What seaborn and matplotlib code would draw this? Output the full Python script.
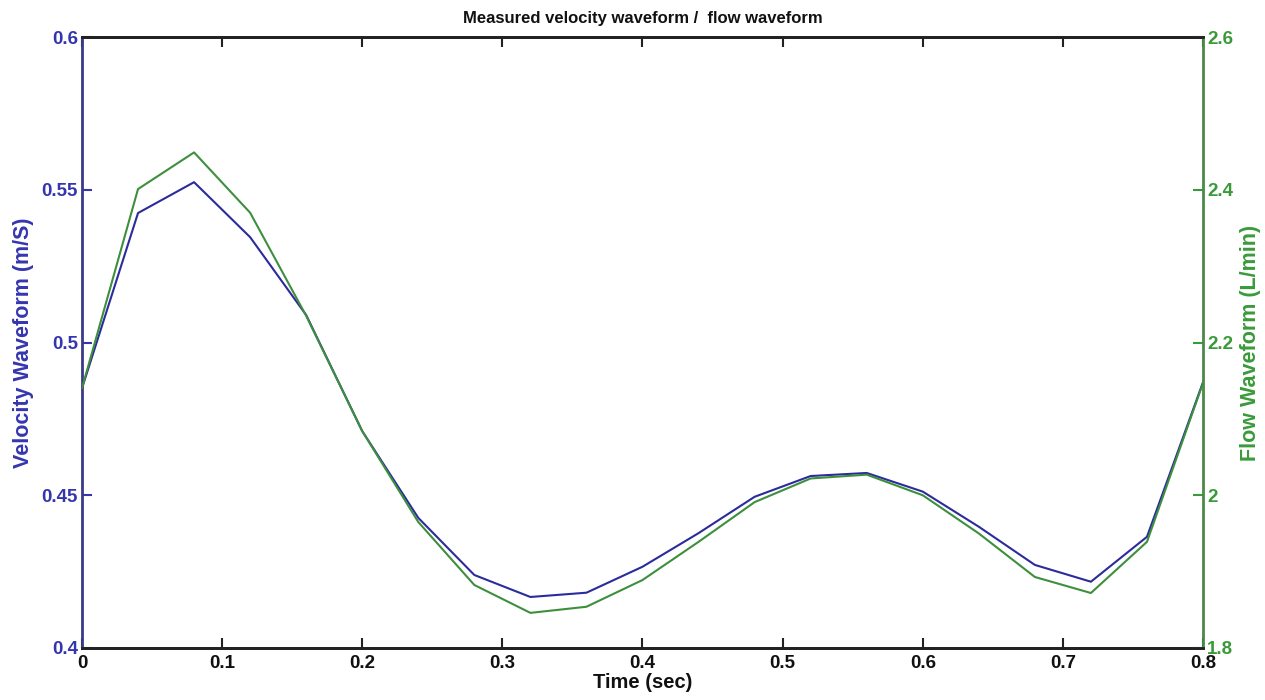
import pandas as pd
import matplotlib
matplotlib.use("Agg")
import matplotlib.pyplot as plt
import seaborn as sns

# values
time_sec = [0.0, 0.04, 0.08, 0.12, 0.16, 0.20, 0.24, 0.28, 0.32, 0.36, 0.40,
            0.44, 0.48, 0.52, 0.56, 0.60, 0.64, 0.68, 0.72, 0.76, 0.80]
velocity = [0.485, 0.5424, 0.5525, 0.5345, 0.509, 0.471, 0.4426, 0.4239, 0.4167,
            0.4181, 0.4266, 0.4376, 0.4495, 0.4563, 0.4573, 0.4512, 0.4397,
            0.4272, 0.4217, 0.4364, 0.487]
flow = [2.14, 2.401, 2.449, 2.370, 2.235, 2.084, 1.965, 1.8825, 1.846, 1.854,
        1.889, 1.939, 1.991, 2.022, 2.027, 2.000, 1.950, 1.893, 1.872, 1.939, 2.147]
x_ticks = [0, 0.1, 0.2, 0.3, 0.4, 0.5, 0.6, 0.7, 0.8]
x_tick_labels = ["0", "0.1", "0.2", "0.3", "0.4", "0.5", "0.6", "0.7", "0.8"]
v_ticks = [0.4, 0.45, 0.5, 0.55, 0.6]
v_tick_labels = ["0.4", "0.45", "0.5", "0.55", "0.6"]
f_ticks = [1.8, 2.0, 2.2, 2.4, 2.6]
f_tick_labels = ["1.8", "2", "2.2", "2.4", "2.6"]

df = pd.DataFrame({"time": time_sec, "velocity": velocity, "flow": flow})

sns.set_theme(style="white")
plt.rcParams["font.family"] = ["Liberation Sans", "DejaVu Sans"]
plt.rcParams["font.weight"] = "bold"

blue = "#2b2b9c"
green = "#3d8f3d"
label_blue = "#3535b0"
label_green = "#3a9a3a"

fig = plt.figure(figsize=(12.65, 7), dpi=100)
ax = fig.add_axes([0.0648, 0.0743, 0.8862, 0.8727])
ax2 = ax.twinx()

sns.lineplot(data=df, x="time", y="velocity", ax=ax, color=blue, linewidth=1.5)
sns.lineplot(data=df, x="time", y="flow", ax=ax2, color=green, linewidth=1.5)

ax.set_xlim(0, 0.8)
ax.set_ylim(0.4, 0.6)
ax2.set_ylim(1.8, 2.6)

ax.set_xticks(x_ticks)
ax.set_xticklabels(x_tick_labels, fontsize=13.5, fontweight="bold", color="#111111")
ax.set_yticks(v_ticks)
ax.set_yticklabels(v_tick_labels, fontsize=13.5, fontweight="bold", color=label_blue)
ax2.set_yticks(f_ticks)
ax2.set_yticklabels(f_tick_labels, fontsize=13.5, fontweight="bold", color=label_green)

ax.tick_params(axis="x", direction="in", top=True, bottom=True, length=7, width=1.5,
               color="#222222", pad=5)
ax.tick_params(axis="y", direction="in", left=True, right=False, length=7, width=1.5,
               color=label_blue, pad=3)
ax2.tick_params(axis="y", direction="in", right=True, left=False, length=7, width=1.5,
                color=label_green, pad=3)

for a in (ax, ax2):
    for side in ("top", "bottom"):
        a.spines[side].set_color("#222222")
        a.spines[side].set_linewidth(2)
ax.spines["left"].set_color("#3a3a8a")
ax.spines["left"].set_linewidth(2)
ax2.spines["left"].set_visible(False)
ax.spines["right"].set_visible(False)
ax2.spines["right"].set_color("#4a8a4a")
ax2.spines["right"].set_linewidth(2)

ax.set_xlabel("Time (sec)", fontsize=14.5, fontweight="bold", color="#111111", labelpad=1)
ax.set_ylabel("Velocity Waveform (m/S)", fontsize=15.5, fontweight="bold", color=label_blue,
              labelpad=5)
ax2.set_ylabel("Flow Waveform (L/min)", fontsize=15.5, fontweight="bold", color=label_green,
               labelpad=5)
ax.set_title("Measured velocity waveform /  flow waveform", fontsize=12,
             fontweight="bold", color="#111111", pad=10)

fig.savefig("out.png", dpi=100)
